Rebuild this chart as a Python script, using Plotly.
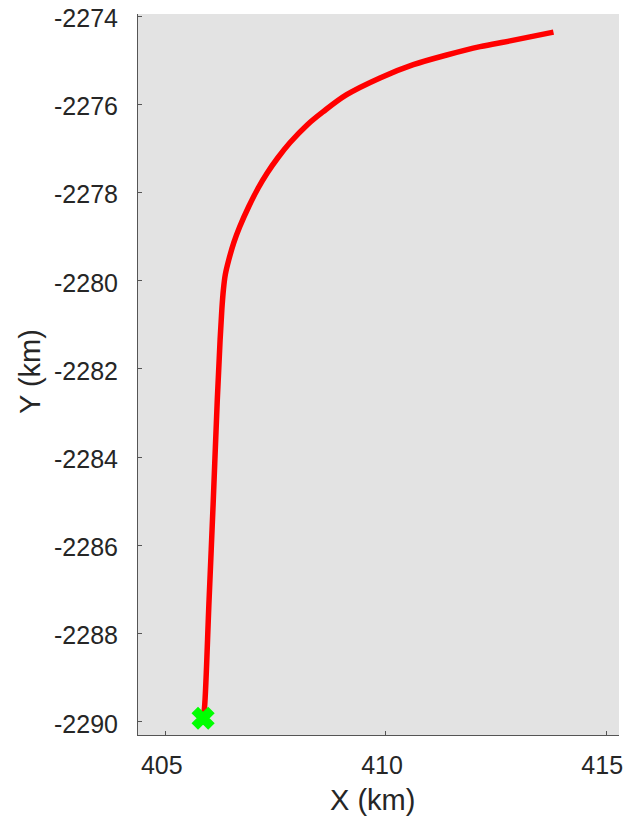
import plotly.graph_objects as go

# Trajectory (km)
track_x = [405.848, 405.880, 405.984, 406.075, 406.170, 406.234, 406.273, 406.309,
           406.352, 406.432, 406.543, 406.677, 406.882, 407.102, 407.307, 407.545,
           407.818, 408.216, 408.568, 409.107, 409.864, 410.620, 411.380, 412.136,
           412.818, 413.802]
track_y = [-2289.92, -2289.68, -2287.23, -2285.08, -2282.70, -2281.34, -2280.66,
           -2280.20, -2279.86, -2279.52, -2279.14, -2278.78, -2278.32, -2277.89,
           -2277.55, -2277.21, -2276.87, -2276.46, -2276.17, -2275.78, -2275.40,
           -2275.10, -2274.88, -2274.69, -2274.56, -2274.36]

start_x = [405.848]
start_y = [-2289.92]

x_ticks = [405, 410, 415]
x_tick_labels = ["405", "410", "415"]
y_ticks = [-2290, -2288, -2286, -2284, -2282, -2280, -2278, -2276, -2274]
y_tick_labels = ["-2290", "-2288", "-2286", "-2284", "-2282", "-2280", "-2278", "-2276", "-2274"]

fig = go.Figure()
fig.add_trace(go.Scatter(
    x=track_x, y=track_y, mode="lines",
    line=dict(color="#ff0000", width=5.5, shape="spline", smoothing=1.0),
    showlegend=False, hoverinfo="skip"))
fig.add_trace(go.Scatter(
    x=start_x, y=start_y, mode="markers",
    marker=dict(symbol="x", size=18, color="#00ff00", line=dict(width=2, color="#00ff00")),
    showlegend=False))

font_family = "Liberation Sans, Arial, sans-serif"
axis_common = dict(
    showgrid=False, zeroline=False, showline=True, linecolor="#555555", linewidth=1,
    ticks="inside", ticklen=4, tickcolor="#555555", mirror=False, automargin=False,
    ticklabeloverflow="allow",
    tickfont=dict(family=font_family, size=25, color="#262626"),
)

fig.update_layout(
    width=630, height=821,
    margin=dict(l=138, r=11, t=14, b=86),
    paper_bgcolor="white", plot_bgcolor="#e3e3e3",
    xaxis=dict(range=[404.37, 415.29], tickvals=x_ticks, ticktext=x_tick_labels,
               ticklabelstandoff=8, ticklabelshift=-4, **axis_common),
    yaxis=dict(range=[-2290.30, -2273.95], tickvals=y_ticks, ticktext=y_tick_labels,
               ticklabelstandoff=14, ticklabelshift=2, **axis_common),
    annotations=[
        dict(text="X (km)", xref="paper", yref="paper", x=0.4865, y=-0.0902,
             xanchor="center", yanchor="middle", showarrow=False,
             font=dict(family=font_family, size=29, color="#262626")),
        dict(text="Y (km)", xref="paper", yref="paper", x=-0.2245, y=0.5035,
             xanchor="center", yanchor="middle", showarrow=False, textangle=-90,
             font=dict(family=font_family, size=29, color="#262626")),
    ],
)

# Remove the browser's default 8px body margin so the figure fills the window.
fig.write_html("out.html",
               config={"displayModeBar": False},
               post_script="document.body.style.margin='0';document.body.style.overflow='hidden';")
